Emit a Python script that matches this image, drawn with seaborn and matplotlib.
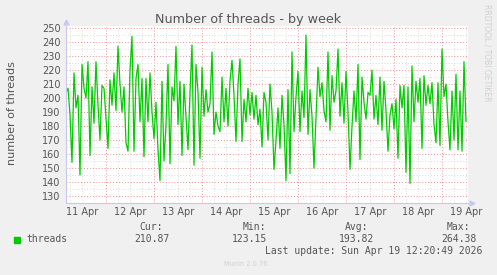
import matplotlib
matplotlib.use("Agg")
import matplotlib.pyplot as plt
import matplotlib.dates as mdates
from matplotlib.patches import Rectangle
from matplotlib.ticker import MultipleLocator, FuncFormatter
import seaborn as sns
import pandas as pd

# ---- data (hourly samples) ----
start_time = "2026-04-11 04:00"
threads = [
    204, 207, 188, 154, 218, 193, 202, 145, 224, 207, 200, 226, 159, 208, 182, 226, 195, 170, 209, 207, 186, 164, 213, 195, 218,
    191, 237, 210, 190, 208, 168, 162, 220, 244, 162, 214, 224, 183, 214, 158, 214, 183, 218, 190, 171, 197, 163, 141, 212, 155,
    181, 224, 153, 208, 198, 237, 181, 212, 159, 210, 186, 163, 204, 238, 152, 224, 204, 157, 222, 187, 206, 190, 196, 233, 174,
    190, 180, 176, 215, 183, 207, 180, 212, 227, 202, 169, 210, 228, 169, 199, 183, 207, 188, 204, 185, 202, 181, 192, 165, 204,
    197, 170, 210, 190, 149, 170, 193, 164, 202, 181, 141, 206, 146, 233, 176, 201, 219, 176, 205, 186, 245, 174, 206, 187, 150,
    186, 222, 201, 211, 191, 183, 233, 177, 216, 197, 205, 235, 187, 211, 182, 219, 190, 149, 180, 205, 183, 224, 156, 215, 197,
    185, 204, 202, 220, 185, 202, 181, 215, 177, 212, 191, 162, 188, 196, 178, 199, 157, 209, 193, 209, 147, 208, 139, 223, 183,
    212, 197, 214, 164, 216, 195, 209, 196, 211, 181, 168, 211, 166, 235, 201, 210, 183, 163, 205, 170, 217, 163, 205, 162, 226, 183,
]
y_ticks = list(range(130, 251, 10))
legend_name = "threads"
stat_labels = ["Cur:", "Min:", "Avg:", "Max:"]
stat_values = ["210.87", "123.15", "193.82", "264.38"]
title = "Number of threads - by week"
ylabel = "number of threads"
last_update = "Last update: Sun Apr 19 12:20:49 2026"
version = "Munin 2.0.76"
side_text = "RRDTOOL / TOBI OETIKER"

times = pd.date_range(start_time, periods=len(threads), freq="h")
df = pd.DataFrame({"time": times, "threads": threads})

sns.set_style("white")
plt.rcParams["font.family"] = ["DejaVu Sans"]

W, H = 497, 275
fig = plt.figure(figsize=(W / 100, H / 100), dpi=100, facecolor="#F0F0F0")
left, right, top, bottom = 66, 468, 26, 203
ax = fig.add_axes([left / W, 1 - bottom / H, (right - left) / W, (bottom - top) / H])
ax.set_facecolor("white")

GREEN = "#00CC00"
TXT = "#555555"
AXC = "#C8C8F0"

sns.lineplot(data=df, x="time", y="threads", ax=ax, color=GREEN, linewidth=0.9)

ax.set_ylim(125, 251.5)
ax.set_xlim(times[0], times[0] + pd.Timedelta(hours=201))

# grids
ax.yaxis.set_major_locator(MultipleLocator(10))
ax.yaxis.set_minor_locator(MultipleLocator(5))
ax.set_yticks(y_ticks)
ax.xaxis.set_major_locator(mdates.HourLocator(byhour=[0]))
ax.xaxis.set_minor_locator(mdates.HourLocator(byhour=[6, 12, 18]))
ax.xaxis.set_major_formatter(FuncFormatter(lambda v, p: ""))

def minor_fmt(v, p):
    d = mdates.num2date(v)
    return d.strftime("%-d %b") if d.hour == 12 else ""

ax.xaxis.set_minor_formatter(FuncFormatter(minor_fmt))

dot = (0, (1, 2))
ax.grid(which="minor", axis="both", color="#DADADA", linestyle=dot, linewidth=0.7)
ax.grid(which="major", axis="both", color="#E89090", linestyle=dot, linewidth=0.7)
ax.set_axisbelow(True)

ax.tick_params(axis="y", which="major", length=2, color="#E89090", pad=2,
               labelsize=7, labelcolor=TXT)
ax.tick_params(axis="y", which="minor", length=0)
ax.tick_params(axis="x", which="major", length=2, color="#E89090", pad=2)
ax.tick_params(axis="x", which="minor", length=0, pad=3, labelsize=7, labelcolor=TXT)

for s in ["top", "right"]:
    ax.spines[s].set_visible(False)
for s in ["left", "bottom"]:
    ax.spines[s].set_color(AXC)
    ax.spines[s].set_linewidth(0.8)

ax.set_xlabel("")
ax.set_ylabel("")

# axis arrows
ax.plot([0], [1.02], marker="^", color=AXC, markersize=3.5, transform=ax.transAxes, clip_on=False)
ax.plot([1.01], [0], marker=">", color=AXC, markersize=3.5, transform=ax.transAxes, clip_on=False)

# texts
fig.text(248.5 / W, 1 - 19 / H, title, ha="center", va="center", fontsize=9.2, color=TXT)
fig.text(12 / W, 1 - 113 / H, ylabel, ha="center", va="center", rotation=90, fontsize=8, color=TXT)
fig.text(487 / W, 1 - 53 / H, side_text, ha="center", va="center", rotation=270,
         fontsize=5.5, color="#D0D0D0")

mono = "DejaVu Sans Mono"
fig.patches.append(Rectangle((14 / W, 1 - 242.5 / H), 6 / W, 6 / H,
                             transform=fig.transFigure, color=GREEN))
fig.text(26 / W, 1 - 239.5 / H, legend_name, ha="left", va="center", fontsize=7, family=mono, color=TXT)
stat_right = [163, 266, 368, 470]
val_right = [170, 267, 374, 477]
for lab, val, xr, vr in zip(stat_labels, stat_values, stat_right, val_right):
    fig.text(xr / W, 1 - 227.5 / H, lab, ha="right", va="center", fontsize=7, family=mono, color=TXT)
    fig.text(vr / W, 1 - 239.5 / H, val, ha="right", va="center", fontsize=7, family=mono, color=TXT)
fig.text(482 / W, 1 - 251.5 / H, last_update, ha="right", va="center", fontsize=7, family=mono, color=TXT)
fig.text(246 / W, 1 - 264.5 / H, version, ha="center", va="center", fontsize=4.8, color="#D0D0D0")

fig.savefig("out.png", dpi=100, facecolor=fig.get_facecolor())
